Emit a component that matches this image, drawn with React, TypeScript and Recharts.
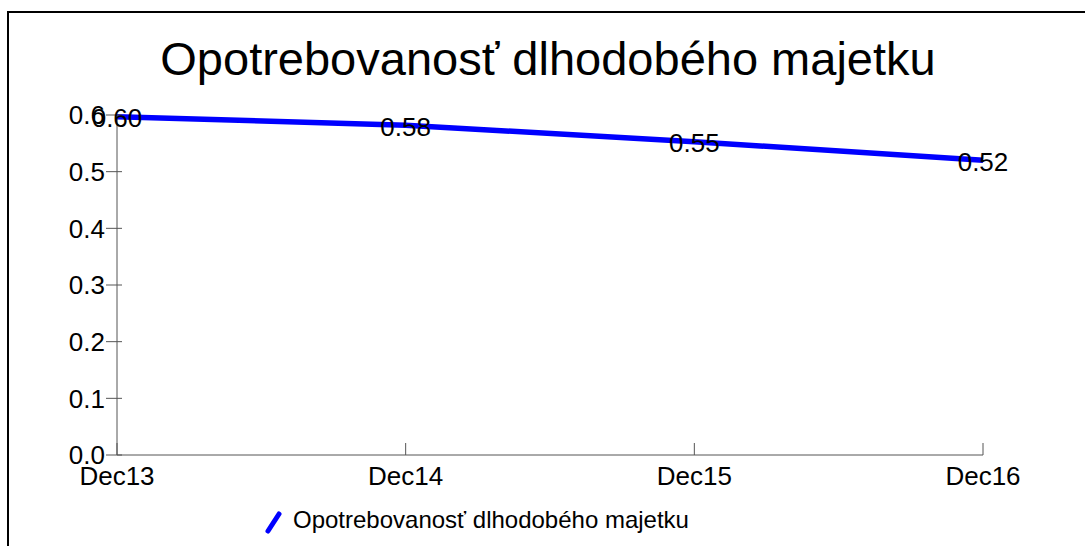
import React from "react"
import { LineChart, Line, XAxis, YAxis, Legend, LabelList } from "recharts"

const title = "Opotrebovanosť dlhodobého majetku"
const categories = ["Dec13", "Dec14", "Dec15", "Dec16"]
const values = [0.597, 0.582, 0.553, 0.52]
const yTicks = [0, 0.1, 0.2, 0.3, 0.4, 0.5, 0.6]

const data = categories.map((c, i) => ({ period: c, value: values[i] }))

const FONT = "'Liberation Sans', Arial, Helvetica, sans-serif"
const AXIS = "#555"

function YTick(props: any) {
  const { x, y, payload } = props
  return (
    <g>
      <line x1={x - 11} x2={x + 5} y1={y} y2={y} stroke={AXIS} strokeWidth={1} />
      <text x={x - 12} y={y} dy="0.355em" textAnchor="end" fontSize={26} fill="#000" fontFamily={FONT}>
        {Number(payload.value).toFixed(1)}
      </text>
    </g>
  )
}

function XTick(props: any) {
  const { x, y, payload } = props
  return (
    <g>
      <line x1={x} x2={x} y1={y - 12} y2={y} stroke={AXIS} strokeWidth={1} />
      <text x={x} y={y + 30} textAnchor="middle" fontSize={26} fill="#000" fontFamily={FONT}>
        {payload.value}
      </text>
    </g>
  )
}

function PointLabel(props: any) {
  const { x, y, value } = props
  return (
    <text x={x} y={y} dy="0.4em" textAnchor="middle" fontSize={26} fill="#000" fontFamily={FONT}>
      {Number(value).toFixed(2)}
    </text>
  )
}

function LegendBox() {
  return (
    <svg width={460} height={30} style={{ overflow: "visible" }}>
      <line x1={10} y1={25} x2={21} y2={8} stroke="#0000ff" strokeWidth={5} strokeLinecap="round" />
      <text x={35} y={22} fontSize={24} fill="#000" fontFamily={FONT}>
        {title}
      </text>
    </svg>
  )
}

export default function App() {
  return (
    <div style={{ position: "fixed", left: 0, top: 0, width: 1085, height: 546, background: "#fff", overflow: "hidden" }}>
      <div
        style={{
          position: "absolute",
          left: 7,
          top: 11,
          right: -5,
          bottom: -5,
          borderTop: "2px solid #000",
          borderLeft: "2px solid #000",
        }}
      />
      <div
        style={{
          position: "absolute",
          left: 0,
          width: 1096,
          top: 31,
          textAlign: "center",
          fontFamily: FONT,
          fontSize: 47,
          lineHeight: "56px",
          color: "#000",
        }}
      >
        {title}
      </div>
      <div style={{ position: "absolute", left: 0, top: 0 }}>
        <LineChart width={1085} height={546} data={data} margin={{ top: 115, right: 102, bottom: 41, left: 57 }}>
          <XAxis
            dataKey="period"
            height={20}
            tickSize={0}
            tickMargin={0}
            tickLine={false}
            axisLine={{ stroke: AXIS }}
            tick={<XTick />}
            interval={0}
          />
          <YAxis
            width={60}
            domain={[0, 0.6]}
            ticks={yTicks}
            tickSize={0}
            tickMargin={0}
            tickLine={false}
            axisLine={{ stroke: AXIS }}
            tick={<YTick />}
            interval={0}
          />
          <Legend
            content={<LegendBox />}
            wrapperStyle={{ position: "absolute", left: 258, top: 506, width: 460, height: 30 }}
          />
          <Line
            type="linear"
            dataKey="value"
            name={title}
            stroke="#0000ff"
            strokeWidth={5.5}
            dot={false}
            activeDot={false}
            isAnimationActive={false}
          >
            <LabelList dataKey="value" content={<PointLabel />} />
          </Line>
        </LineChart>
      </div>
    </div>
  )
}
